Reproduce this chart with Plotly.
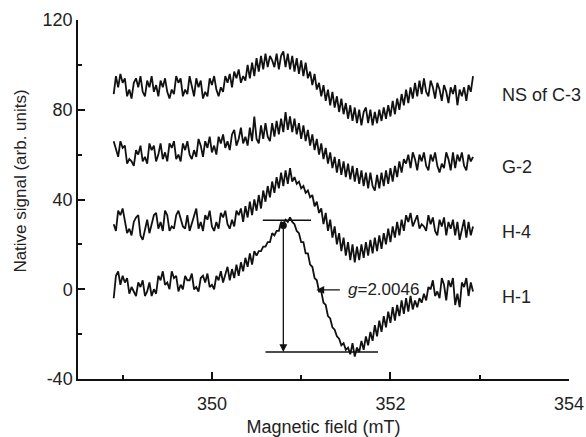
import numpy as np
import plotly.graph_objects as go

# field sweep of the spectrometer (mT)
FIELD_START = 348.9
FIELD_STEP = 0.025

h1 = [
    -4, 6, 8, 2, 6, 3, 5, -2, 1, -1,
    -3, 3, 1, 4, -3, -1, 3, -3, 0, -2,
    6, 4, 8, 2, 3, 0, 8, 5, 6, -1,
    2, 0, 6, 4, 4, 7, 0, 1, -1, 5,
    6, 3, 7, 1, 2, 0, 6, 4, 8, 3,
    7, 10, 4, 9, 5, 11, 6, 12, 8, 14,
    10, 16, 11, 17, 15, 17, 17, 19, 19, 21,
    21, 25, 24, 26, 26, 30, 29, 31, 30, 32,
    30, 29, 26, 25, 21, 21, 16, 16, 11, 10,
    5, 4, -1, -1, -6, -7, -12, -13, -17, -18,
    -21, -22, -25, -24, -27, -26, -29, -24, -30, -26,
    -28, -23, -27, -21, -25, -19, -23, -16, -21, -14,
    -19, -12, -17, -10, -15, -8, -14, -7, -12, -5,
    -11, -4, -10, -3, -9, -5, -8, -4, -6, -2,
    -5, 1, 0, 4, -3, -1, -4, 5, 2, -5,
    4, 1, 5, -7, -2, -8, 3, 1, 5, -3,
    3, -1,
]

h4 = [
    29, 26, 35, 33, 36, 30, 25, 27, 24, 30,
    32, 33, 24, 22, 27, 31, 25, 29, 33, 34,
    27, 30, 26, 35, 33, 26, 28, 27, 33, 35,
    31, 28, 27, 33, 26, 29, 32, 36, 27, 30,
    26, 33, 31, 35, 28, 26, 30, 27, 34, 32,
    35, 29, 27, 31, 28, 35, 33, 36, 30, 37,
    32, 39, 33, 40, 35, 42, 36, 44, 39, 46,
    41, 48, 43, 50, 45, 52, 46, 53, 47, 54,
    48, 50, 47, 48, 45, 46, 43, 44, 41, 42,
    37, 39, 34, 36, 29, 34, 26, 31, 23, 28,
    20, 25, 17, 23, 15, 21, 13, 20, 12, 19,
    13, 20, 14, 21, 15, 22, 16, 23, 17, 24,
    18, 25, 20, 27, 21, 28, 23, 30, 24, 31,
    26, 33, 30, 34, 28, 31, 33, 27, 29, 28,
    26, 33, 29, 32, 26, 24, 31, 28, 32, 24,
    30, 27, 31, 24, 30, 22, 26, 31, 23, 30,
    24, 28,
]

g2 = [
    66, 62, 59, 66, 63, 64, 56, 58, 57, 55,
    62, 60, 64, 57, 59, 56, 65, 62, 64, 57,
    60, 65, 58, 61, 57, 65, 63, 66, 58, 60,
    57, 65, 62, 66, 60, 58, 62, 59, 67, 64,
    59, 66, 63, 68, 61, 64, 60, 68, 65, 69,
    63, 66, 62, 69, 71, 64, 67, 72, 65, 68,
    64, 72, 66, 77, 67, 65, 73, 67, 74, 68,
    66, 74, 68, 75, 69, 76, 70, 79, 71, 77,
    70, 76, 69, 74, 67, 73, 66, 71, 64, 69,
    62, 67, 60, 65, 58, 63, 56, 61, 54, 59,
    52, 58, 51, 57, 50, 56, 49, 55, 48, 54,
    47, 53, 46, 52, 45, 52, 46, 44, 51, 45,
    52, 46, 53, 47, 54, 48, 55, 50, 57, 52,
    58, 56, 60, 54, 61, 58, 53, 60, 57, 61,
    55, 53, 60, 57, 61, 55, 52, 56, 54, 61,
    58, 53, 61, 54, 60, 57, 61, 55, 53, 60,
    57, 59,
]

ns_c3 = [
    87, 95, 90, 96, 92, 94, 86, 89, 85, 92,
    94, 90, 95, 88, 86, 93, 90, 95, 88, 91,
    86, 93, 90, 94, 88, 85, 89, 87, 95, 92,
    94, 86, 89, 87, 95, 91, 86, 94, 90, 93,
    85, 88, 86, 94, 91, 95, 89, 86, 90, 88,
    95, 92, 96, 90, 97, 94, 98, 92, 95, 93,
    100, 94, 101, 95, 103, 97, 104, 98, 105, 99,
    104, 102, 99, 105, 98, 104, 106, 99, 105, 98,
    104, 97, 103, 96, 102, 95, 101, 94, 97, 91,
    96, 89, 92, 86, 91, 84, 89, 82, 88, 81,
    86, 79, 85, 78, 83, 76, 82, 75, 81, 74,
    80, 73, 79, 81, 74, 80, 73, 79, 74, 80,
    75, 81, 76, 82, 77, 84, 78, 85, 80, 87,
    82, 89, 83, 90, 85, 92, 86, 93, 87, 94,
    88, 86, 93, 90, 85, 92, 89, 84, 91, 88,
    83, 90, 87, 91, 82, 89, 86, 90, 84, 91,
    88, 95,
]

series = [ns_c3, g2, h4, h1]
names = ["NS of C-3", "G-2", "H-4", "H-1"]
label_y = [86.7, 54.7, 25.3, -3.5]

y_ticks = [-40, 0, 40, 80, 120]
y_ticktext = ["-40", "0", "40", "80", "120"]
x_ticks = [350, 352, 354]

# peak-to-peak marks on H-1
peak_x = 350.8
peak_y = 30.7
trough_y = -28
g_label = "<i>g</i>=2.0046"

field = np.round(FIELD_START + FIELD_STEP * np.arange(len(h1)), 3)

FONT = "Arial, Liberation Sans, sans-serif"
INK = "#111111"
TXT = "#222222"

fig = go.Figure()
for y, name in zip(series, names):
    fig.add_trace(
        go.Scatter(
            x=field,
            y=y,
            mode="lines",
            name=name,
            line=dict(color=INK, width=1.8),
        )
    )

# dot on top of the H-1 peak
fig.add_trace(
    go.Scatter(x=[peak_x], y=[28.4], mode="markers", marker=dict(color=INK, size=7))
)

# horizontal level lines
fig.add_shape(type="line", x0=350.57, x1=351.11, y0=peak_y, y1=peak_y,
              line=dict(color=INK, width=1.5))
fig.add_shape(type="line", x0=350.6, x1=351.86, y0=trough_y, y1=trough_y,
              line=dict(color=INK, width=1.5))

# vertical arrow peak -> trough
fig.add_annotation(
    x=peak_x, y=trough_y, ax=peak_x, ay=peak_y,
    xref="x", yref="y", axref="x", ayref="y",
    text="", showarrow=True, arrowhead=2, arrowsize=1.2, arrowwidth=1.3,
    arrowcolor=INK,
)

# g value pointer
fig.add_annotation(
    x=351.17, y=-0.3, ax=351.45, ay=-0.3,
    xref="x", yref="y", axref="x", ayref="y",
    text="", showarrow=True, arrowhead=2, arrowsize=1.2, arrowwidth=1.3,
    arrowcolor=INK,
)
fig.add_annotation(
    x=351.5, y=-0.3, xref="x", yref="y", text=g_label, showarrow=False,
    xanchor="left", font=dict(family=FONT, size=17, color=TXT),
)

for name, ly in zip(names, label_y):
    fig.add_annotation(
        x=353.23, y=ly, xref="x", yref="y", text=name, showarrow=False,
        xanchor="left", font=dict(family=FONT, size=18, color=TXT),
    )

# y title sits a little above the middle of the axis in the original
fig.add_annotation(
    x=-0.118, y=0.55, xref="paper", yref="paper",
    text="Native signal (arb. units)", textangle=-90, showarrow=False,
    xanchor="center", yanchor="middle",
    font=dict(family=FONT, size=17, color=TXT),
)

axis_common = dict(
    automargin=False,
    showline=True,
    linecolor=INK,
    linewidth=1.5,
    showgrid=False,
    zeroline=False,
    ticks="inside",
    ticklen=7,
    tickwidth=1.5,
    tickcolor=INK,
    tickfont=dict(family=FONT, size=18, color=TXT),
)

fig.update_layout(
    width=586,
    height=437,
    margin=dict(l=78, r=17, t=20, b=58),
    template="plotly_white",
    plot_bgcolor="white",
    paper_bgcolor="white",
    showlegend=False,
    xaxis=dict(
        range=[348.5, 354],
        tickvals=x_ticks,
        ticklabelstandoff=8,
        minor=dict(ticks="inside", ticklen=4, tickwidth=1.5, tickcolor=INK, dtick=1, tick0=349),
        title=dict(text="Magnetic field (mT)", standoff=14,
                   font=dict(family=FONT, size=18, color=TXT)),
        **axis_common,
    ),
    yaxis=dict(
        range=[-40, 120],
        tickvals=y_ticks,
        ticktext=y_ticktext,
        minor=dict(ticks="inside", ticklen=4, tickwidth=1.5, tickcolor=INK, dtick=20, tick0=0),
        **axis_common,
    ),
)

# the default page body has an 8px margin; drop it so the figure fills the window
fig.write_html(
    "out.html",
    config={"displayModeBar": False},
    post_script="document.body.style.margin = '0';",
)
